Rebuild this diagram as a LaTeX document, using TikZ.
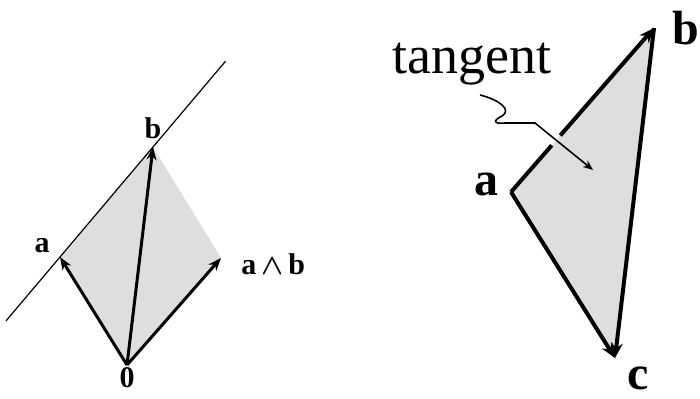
\documentclass[tikz,border=0pt]{standalone}
\usepackage{amsmath,amssymb}
\usepackage{fontspec}
\setmainfont{Liberation Serif}
\usetikzlibrary{arrows.meta,calc,positioning}

\tikzset{
  vec/.style={line width=1.5pt, -{Stealth[length=6.5pt,width=5pt]}},
  rvec/.style={line width=2pt, -{Stealth[length=7.5pt,width=6pt]}},
  rline/.style={line width=2pt},
  area/.style={fill=black!13, draw=none},
  lbl/.style={font=\fontsize{15}{17}\selectfont\bfseries, inner sep=1pt},
  rlbl/.style={font=\fontsize{24}{28}\selectfont\bfseries, inner sep=1pt},
}

\begin{document}
\begin{tikzpicture}[x=0.5pt, y=-0.5pt]
  \useasboundingbox (0,0) rectangle (700,398);

  % 1. left picture: the vectors and the tangent line
  \coordinate (o) at (127,365);
  \coordinate (a) at (60,257);
  \coordinate (b) at (153,147);
  \coordinate (ab) at (221,258);

  \fill[area] (o) -- (a) -- (b) -- (ab) -- cycle;
  \draw[line width=0.6pt] ($(a)!-0.58!(b)$) -- ($(a)!1.78!(b)$);
  \draw[vec] (o) -- (a);
  \draw[vec] (o) -- (b);
  \draw[vec] (o) -- (ab);

  \node[lbl, above left=1pt and 4pt of a] (la) {a};
  \node[lbl, above=3pt of b] (lb) {b};
  \node[lbl, right=9pt of ab, yshift=-3pt] (lab) {a\,$\boldsymbol{\wedge}$\,b};
  \node[lbl, below=0pt of o] (lo) {0};

  % 2. right picture: the triangle a, b, c
  \coordinate (ra) at (511,192);
  \coordinate (rb) at (654,28);
  \coordinate (rc) at (615,358);
  % gap in the edge a--b where the pointer crosses
  \coordinate (g1) at ($(ra)!0.285!(rb)$);
  \coordinate (g2) at ($(ra)!0.345!(rb)$);

  \fill[area] (ra) -- (rb) -- (rc) -- cycle;
  \draw[rline] (ra) -- (g1);
  \draw[rvec] (g2) -- (rb);
  \draw[rvec] (rb) -- (rc);
  \draw[rvec] (ra) -- (rc);

  \node[rlbl, left=5pt of ra, yshift=4pt] (lra) {a};
  \node[rlbl, right=8pt of rb] (lrb) {b};
  \node[rlbl, below right=3pt and 5pt of rc] (lrc) {c};

  % 3. the word and its wiggly pointer
  \node[font=\fontsize{27}{30}\selectfont, inner sep=0pt] (tg) at (472,64) {tangent};
  \coordinate (w0) at (480,95);
  \coordinate (w1) at (535,123);
  \coordinate (tip) at (593,170);
  \draw[line width=0.8pt, -{Stealth[length=5pt,width=4pt]}]
    (w0) .. controls (500,100) and (512,110) .. (502,116)
         .. controls (492,121) and (494,124) .. (505,123)
         -- (w1) -- (tip);
\end{tikzpicture}
\end{document}
